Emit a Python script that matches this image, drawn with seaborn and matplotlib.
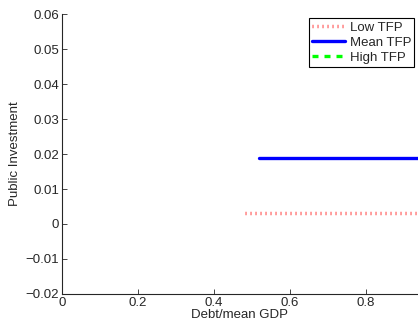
import pandas as pd
import numpy as np
import seaborn as sns
import matplotlib.pyplot as plt

# values
debt_low = [0.482, 0.6, 0.7, 0.8, 0.9, 1.0]
inv_low = [0.003, 0.003, 0.003, 0.003, 0.003, 0.003]
debt_mean = [0.518, 0.6, 0.7, 0.8, 0.9, 1.0]
inv_mean = [0.0189, 0.0189, 0.0189, 0.0189, 0.0189, 0.0189]
debt_high = []
inv_high = []

sns.set_style('ticks')
plt.rcParams['font.family'] = ['Liberation Sans', 'DejaVu Sans']
plt.rcParams['xtick.direction'] = 'in'
plt.rcParams['ytick.direction'] = 'in'

fig = plt.figure(figsize=(4.18, 3.27), dpi=100)
ax = fig.add_axes([0.148, 0.101, 0.852, 0.856])

low = pd.DataFrame({'debt': debt_low, 'inv': inv_low})
mean = pd.DataFrame({'debt': debt_mean, 'inv': inv_mean})

sns.lineplot(x='debt', y='inv', data=low, ax=ax, color='#ff4a4a', lw=2.5,
             linestyle=(0, (0.3, 1.14)), label='Low TFP')
sns.lineplot(x='debt', y='inv', data=mean, ax=ax, color='#0000ff', lw=2.4,
             label='Mean TFP')
ax.plot(debt_high, inv_high, color='#00ff00', lw=2.4, linestyle=(0, (1.8, 1.8)), label='High TFP')

ax.set_xlim(0, 0.937)
ax.set_ylim(-0.02, 0.06)
ax.set_xticks([0, 0.2, 0.4, 0.6, 0.8])
ax.set_xticklabels(['0', '0.2', '0.4', '0.6', '0.8'])
ax.set_yticks(np.arange(-0.02, 0.061, 0.01))
ax.set_yticklabels(['\u22120.02', '\u22120.01', '0', '0.01', '0.02', '0.03', '0.04', '0.05', '0.06'])
ax.tick_params(labelsize=9.5, length=3.5, width=0.6, pad=2)
for s in ['top', 'right']:
    ax.spines[s].set_visible(False)
for s in ['left', 'bottom']:
    ax.spines[s].set_linewidth(0.8)
ax.set_xlabel('Debt/mean GDP', fontsize=9.5, labelpad=0)
ax.set_ylabel('Public Investment', fontsize=9.5, labelpad=3)

leg = ax.legend(loc='upper right', bbox_to_anchor=(0.99, 0.985), fontsize=9.5,
                frameon=True, fancybox=False, edgecolor='black', framealpha=1,
                handlelength=2.5, handletextpad=0.35, borderpad=0.25,
                labelspacing=0.2, borderaxespad=0)
leg.get_frame().set_linewidth(0.8)

plt.savefig('out.png', dpi=100)
